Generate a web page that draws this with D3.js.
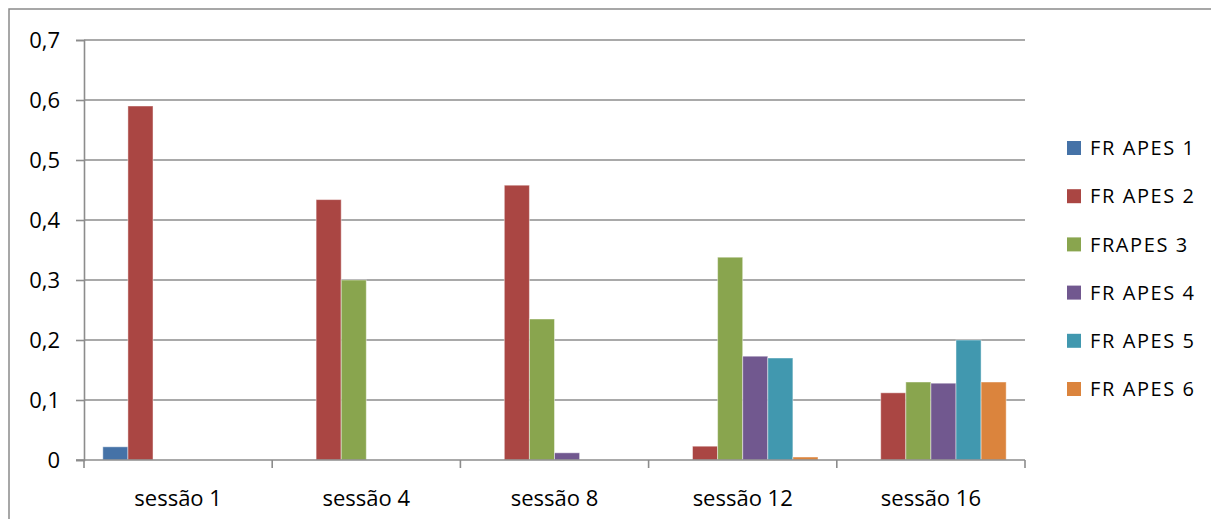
<!DOCTYPE html>
<html>
<head>
<meta charset="utf-8">
<script src="https://cdn.jsdelivr.net/npm/d3@7"></script>
<style>
  html, body { margin: 0; padding: 0; background: #fff; }
  svg { display: block; }
  text { font-family: "Open Sans", sans-serif; fill: #000; }
</style>
</head>
<body>
<svg id="chart" width="1211" height="519"></svg>
<script>
// Sessions on the category axis
const sessions = ["sessão 1", "sessão 4", "sessão 8", "sessão 12", "sessão 16"];

// Series names (legend order)
const seriesNames = ["FR APES 1", "FR APES 2", "FRAPES 3", "FR APES 4", "FR APES 5", "FR APES 6"];

// Values per series, one per session
const apes1 = [0.022, 0, 0, 0, 0];
const apes2 = [0.59, 0.434, 0.458, 0.023, 0.112];
const apes3 = [0, 0.30, 0.235, 0.338, 0.13];
const apes4 = [0, 0, 0.012, 0.173, 0.128];
const apes5 = [0, 0, 0, 0.17, 0.2];
const apes6 = [0, 0, 0, 0.005, 0.13];

// Value axis ticks
const yTicks = [0, 0.1, 0.2, 0.3, 0.4, 0.5, 0.6, 0.7];

const seriesColors = ["#4572A7", "#AA4643", "#89A54E", "#71588F", "#4198AF", "#DB843D"];
const seriesValues = [apes1, apes2, apes3, apes4, apes5, apes6];

const svg = d3.select("#chart");

const plot = { left: 84, right: 1025, top: 40, bottom: 460 };

const x0 = d3.scaleBand().domain(sessions).range([plot.left, plot.right]).padding(0);
const x1 = d3.scaleBand().domain(seriesNames).range([0, x0.bandwidth()])
  .paddingInner(0).paddingOuter(0.75);
const y = d3.scaleLinear().domain([0, 0.7]).range([plot.bottom, plot.top]);

const gridColor = "#8c8c8c";

// Outer chart frame
svg.append("path")
  .attr("d", `M9,${519 + 2} V9 H${1211 + 2}`)
  .attr("fill", "none").attr("stroke", "#8a8a8a").attr("stroke-width", 1.5);

// Horizontal gridlines
svg.append("g").selectAll("line").data(yTicks.filter(t => t > 0)).join("line")
  .attr("x1", plot.left).attr("x2", plot.right)
  .attr("y1", d => y(d)).attr("y2", d => y(d))
  .attr("stroke", gridColor).attr("stroke-width", 1.6);

// Value axis
const yAxis = d3.axisLeft(y).tickValues(yTicks)
  .tickFormat(d => d === 0 ? "0" : d3.format(".1f")(d).replace(".", ","))
  .tickSize(8).tickPadding(16);
const gy = svg.append("g").attr("transform", `translate(${plot.left},0)`).call(yAxis);
gy.select(".domain").attr("stroke", gridColor).attr("stroke-width", 1.6);
gy.selectAll(".tick line").attr("stroke", gridColor).attr("stroke-width", 1.6);
gy.selectAll(".tick text")
  .style("font-family", '"Open Sans", sans-serif')
  .style("font-size", "22px").attr("fill", "#000");

// Bars
const groups = svg.append("g").selectAll("g").data(sessions).join("g")
  .attr("transform", d => `translate(${x0(d)},0)`);

groups.selectAll("rect")
  .data((s, i) => seriesNames.map((name, k) => ({ name, value: seriesValues[k][i], color: seriesColors[k] }))
    .filter(d => d.value > 0))
  .join("rect")
  .attr("x", d => x1(d.name))
  .attr("width", x1.bandwidth())
  .attr("y", d => y(d.value))
  .attr("height", d => y(0) - y(d.value))
  .attr("fill", d => d.color)
  .attr("stroke", "rgba(255,255,255,0.45)")
  .attr("stroke-width", 1);

// Category axis
const xAxis = d3.axisBottom(x0).tickSize(0).tickPadding(30);
const gx = svg.append("g").attr("transform", `translate(0,${plot.bottom})`).call(xAxis);
gx.select(".domain").remove();
gx.append("line").attr("x1", plot.left - 8).attr("x2", plot.right)
  .attr("stroke", gridColor).attr("stroke-width", 1.6);
gx.selectAll(".tick text")
  .style("font-family", '"Open Sans", sans-serif')
  .style("font-size", "22px").attr("fill", "#000");

// Category separators below the axis
const bounds = sessions.map(s => x0(s)).concat([x0(sessions[sessions.length - 1]) + x0.bandwidth()]);
svg.append("g").selectAll("line").data(bounds).join("line")
  .attr("x1", d => d).attr("x2", d => d)
  .attr("y1", plot.bottom).attr("y2", plot.bottom + 8)
  .attr("stroke", gridColor).attr("stroke-width", 1.6);

// Legend
const legend = svg.append("g").attr("transform", "translate(1067,148)");
const item = legend.selectAll("g").data(seriesNames).join("g")
  .attr("transform", (d, i) => `translate(0,${i * 48.2})`);
item.append("rect")
  .attr("x", 0).attr("y", -7).attr("width", 14).attr("height", 14)
  .attr("fill", (d, i) => seriesColors[i]);
item.append("text")
  .attr("x", 23).attr("y", 0).attr("dy", "0.36em")
  .style("font-size", "20px").style("letter-spacing", "1.6px")
  .text(d => d);
</script>
</body>
</html>
